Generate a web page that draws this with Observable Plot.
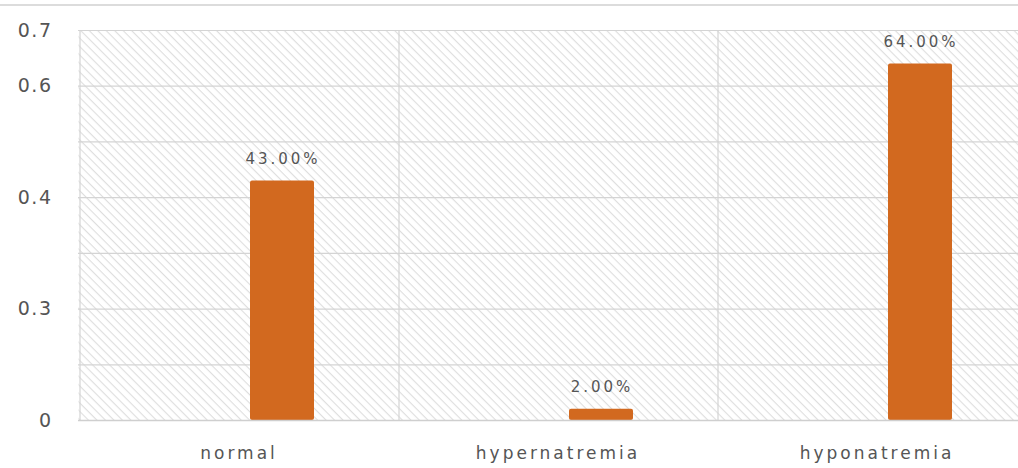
<!DOCTYPE html>
<html>
<head>
<meta charset="utf-8">
<script src="https://cdn.jsdelivr.net/npm/d3@7"></script>
<script src="https://cdn.jsdelivr.net/npm/@observablehq/plot@0.6"></script>
<style>
  html, body { margin: 0; padding: 0; background: #fff; overflow: hidden; }
  #wrap { position: relative; width: 1018px; height: 468px; overflow: hidden; }
  #topline { position: absolute; left: 0; top: 4px; width: 1018px; height: 2px; background: #dcdcdc; }
  #chart { position: absolute; left: 0; top: 0; width: 1036px; }
  #chart svg { max-width: none !important; }
</style>
</head>
<body>
<div id="wrap">
  <div id="chart"></div>
  <div id="topline"></div>
</div>
<script>
const categories = ["normal", "hypernatremia", "hyponatremia"];
const values = [0.43, 0.02, 0.64];
const valueLabels = ["43.00%", "2.00%", "64.00%"];
const gridValues = [0, 0.1, 0.2, 0.3, 0.4, 0.5, 0.6, 0.7];
const tickValues = [0, 0.2, 0.4, 0.6, 0.7];
const tickLabels = ["0", "0.3", "0.4", "0.6", "0.7"];

const data = categories.map((c, i) => ({ category: c, value: values[i], label: valueLabels[i] }));
const tickMap = new Map(tickValues.map((v, i) => [v, tickLabels[i]]));

const barColor = "#d2691f";
const gridColor = "#d4d4d4";
const textColor = "#555555";

const plot = Plot.plot({
  width: 1036,
  height: 468,
  marginLeft: 78,
  marginRight: 0,
  marginTop: 30,
  marginBottom: 48,
  style: { fontFamily: "DejaVu Sans, sans-serif", background: "transparent", maxWidth: "none" },
  x: { domain: categories, padding: 0, label: null },
  y: { domain: [0, 0.7], label: null },
  marks: [
    Plot.frame({ fill: "url(#hatch)", stroke: null }),
    Plot.gridY(gridValues, { stroke: gridColor, strokeOpacity: 1, strokeWidth: 1.2 }),
    Plot.ruleX(categories, { x: d => d, stroke: gridColor, strokeWidth: 1.2, dx: -159 }),
    Plot.barY(data, {
      x: "category", y: "value", fill: barColor,
      insetLeft: 171, insetRight: 84, rx: 2
    }),
    Plot.text(data, {
      x: "category", y: "value", text: "label", dx: 44, dy: -22,
      fill: textColor, fontSize: 15
    }),
    Plot.axisY(tickValues, {
      tickSize: 0, tickPadding: 26, fontSize: 19, fill: textColor,
      tickFormat: d => tickMap.get(d), label: null
    }),
    Plot.axisX({
      tickSize: 0, tickPadding: 26, fontSize: 17, fill: textColor, label: null
    }),
    Plot.ruleY([0], { stroke: "#cfcfcf", strokeWidth: 1.5 })
  ]
});

// hatch pattern definition
const svg = d3.select(plot);
const defs = svg.insert("defs", ":first-child");
const pat = defs.append("pattern")
  .attr("id", "hatch")
  .attr("patternUnits", "userSpaceOnUse")
  .attr("width", 6).attr("height", 6)
  .attr("patternTransform", "rotate(45)");
pat.append("rect").attr("width", 6).attr("height", 6).attr("fill", "#ffffff");
pat.append("line").attr("x1", 0).attr("y1", 0).attr("x2", 6).attr("y2", 0)
  .attr("stroke", "#dedede").attr("stroke-width", 2.2);

svg.selectAll("g[aria-label='text'] text").style("letter-spacing", "3px");
svg.selectAll("g[aria-label='x-axis tick label'] text").style("letter-spacing", "3px");
svg.selectAll("g[aria-label='y-axis tick label'] text").style("letter-spacing", "1.5px");

document.getElementById("chart").appendChild(plot);
</script>
</body>
</html>
